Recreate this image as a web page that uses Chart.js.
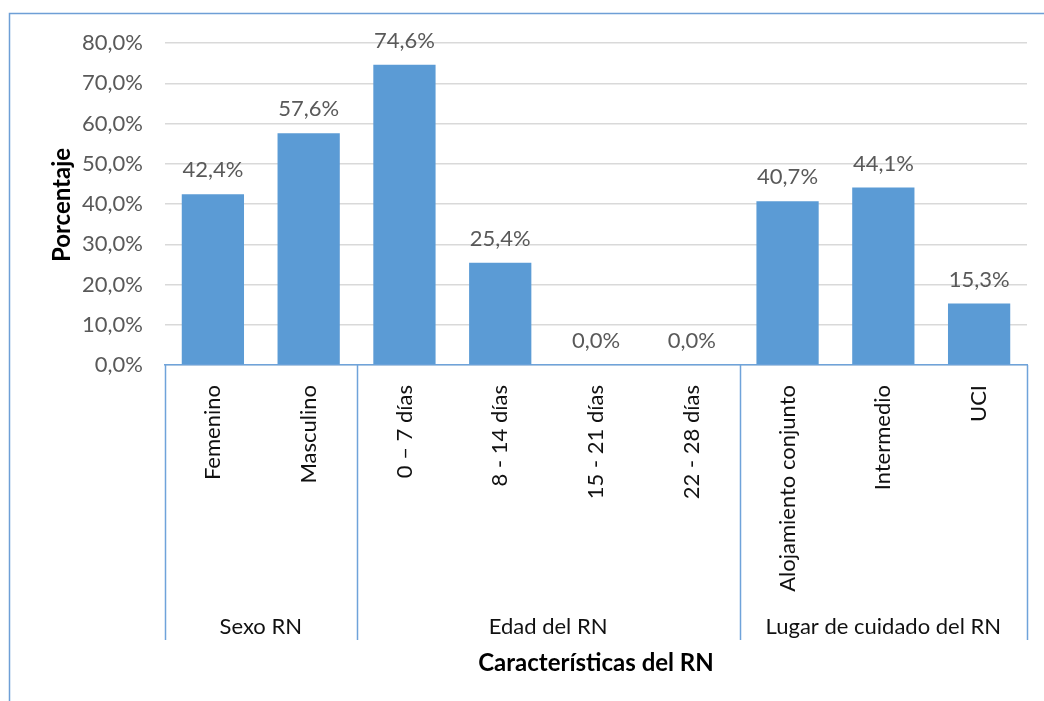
<!DOCTYPE html>
<html>
<head>
<meta charset="utf-8">
<script src="https://cdn.jsdelivr.net/npm/chart.js@4"></script>
<style>
  html, body { margin: 0; padding: 0; background: #fff; }
  #wrap { position: relative; width: 1044px; height: 701px; }
</style>
</head>
<body>
<div id="wrap"><canvas id="chart" width="1044" height="701"></canvas></div>
<script>
// Categories and groups
const CATEGORIES = ["Femenino", "Masculino", "0 – 7 días", "8 - 14 días", "15 - 21 días", "22 - 28 días", "Alojamiento conjunto", "Intermedio", "UCI"];
const VALUES = [42.4, 57.6, 74.6, 25.4, 0.0, 0.0, 40.7, 44.1, 15.3];
const GROUPS = ["Sexo RN", "Edad del RN", "Lugar de cuidado del RN"];
const GROUP_SIZES = [2, 4, 3];
const Y_TICKS = [0, 10, 20, 30, 40, 50, 60, 70, 80];

const FONT = "Lato, 'Open Sans', sans-serif";
const BAR_COLOR = "#5B9BD5";
const AXIS_COLOR = "#6FA3DA";

// Format like "42,4%"
function formatPct(v) {
  return v.toFixed(1).replace(".", ",") + "%";
}

// Group separators, group labels, data labels, titles and frame
const extrasPlugin = {
  id: "extras",
  afterDraw(chart) {
    const ctx = chart.ctx;
    const x = chart.scales.x;
    const area = chart.chartArea;
    const catW = (x.right - x.left) / CATEGORIES.length;

    ctx.save();

    // frame (left and top edges)
    ctx.strokeStyle = "#6E9FD6";
    ctx.lineWidth = 1.5;
    ctx.beginPath();
    ctx.moveTo(9.5, 701);
    ctx.lineTo(9.5, 13.5);
    ctx.lineTo(1044, 13.5);
    ctx.stroke();

    // separators between groups
    ctx.strokeStyle = AXIS_COLOR;
    ctx.lineWidth = 1.5;
    let idx = 0;
    const bounds = [0];
    GROUP_SIZES.forEach((n) => { idx += n; bounds.push(idx); });
    bounds.forEach((b) => {
      const px = Math.round(x.left + b * catW) + 0.5;
      ctx.beginPath();
      ctx.moveTo(px, area.bottom);
      ctx.lineTo(px, 640);
      ctx.stroke();
    });

    // group labels
    ctx.fillStyle = "#111";
    ctx.font = "22px " + FONT;
    ctx.textAlign = "center";
    ctx.textBaseline = "middle";
    for (let g = 0; g < GROUPS.length; g++) {
      const cx = x.left + ((bounds[g] + bounds[g + 1]) / 2) * catW;
      ctx.fillText(GROUPS[g], cx, 627);
    }

    // data labels
    const meta = chart.getDatasetMeta(0);
    ctx.fillStyle = "#595959";
    ctx.font = "22px " + FONT;
    meta.data.forEach((bar, i) => {
      ctx.fillText(formatPct(VALUES[i]), bar.x, bar.y - 24);
    });

    // axis titles
    ctx.fillStyle = "#000";
    ctx.font = "bold 24px " + FONT;
    ctx.fillText("Características del RN", 596, 663);
    ctx.translate(62, 205);
    ctx.rotate(-Math.PI / 2);
    ctx.fillText("Porcentaje", 0, 0);

    ctx.restore();
  },
};

new Chart(document.getElementById("chart"), {
  type: "bar",
  data: {
    labels: CATEGORIES,
    datasets: [
      {
        data: VALUES,
        backgroundColor: BAR_COLOR,
        borderWidth: 0,
        categoryPercentage: 1,
        barPercentage: 0.65,
      },
    ],
  },
  options: {
    responsive: false,
    animation: false,
    layout: { padding: { left: 0, top: 43, right: 17, bottom: 0 } },
    plugins: {
      legend: { display: false },
      tooltip: { enabled: false },
    },
    scales: {
      x: {
        grid: { display: false },
        border: { display: true, color: AXIS_COLOR, width: 1.5 },
        ticks: {
          minRotation: 90,
          maxRotation: 90,
          autoSkip: false,
          padding: 12,
          color: "#111",
          font: { family: FONT, size: 22 },
        },
        afterFit(scale) {
          scale.height = 701 - 365;
        },
      },
      y: {
        min: 0,
        max: 80,
        afterBuildTicks(scale) {
          scale.ticks = Y_TICKS.map((v) => ({ value: v }));
        },
        grid: { color: "#D9D9D9", lineWidth: 1.5, drawTicks: false },
        border: { display: false },
        ticks: {
          padding: 22,
          color: "#595959",
          font: { family: FONT, size: 22 },
          callback: (v) => formatPct(v),
        },
        afterFit(scale) {
          scale.width = 165;
        },
      },
    },
  },
  plugins: [extrasPlugin],
});
</script>
</body>
</html>
